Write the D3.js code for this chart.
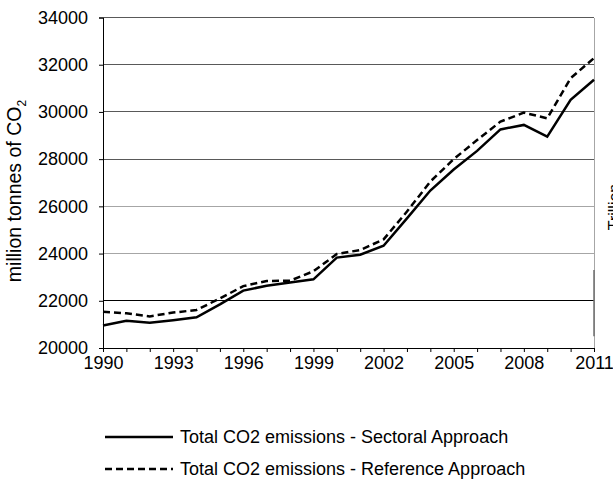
<!DOCTYPE html>
<html>
<head>
<meta charset="utf-8">
<script src="https://cdn.jsdelivr.net/npm/d3@7"></script>
<style>
  html, body { margin: 0; padding: 0; background: #fff; }
  svg { display: block; font-family: "Liberation Sans", Arial, sans-serif; }
</style>
</head>
<body>
<svg id="chart" width="613" height="486"></svg>
<script>
const years = [1990,1991,1992,1993,1994,1995,1996,1997,1998,1999,2000,2001,2002,2003,2004,2005,2006,2007,2008,2009,2010,2011];
const sectoral = [20950,21150,21070,21180,21300,21850,22430,22640,22770,22910,23830,23950,24330,25490,26670,27560,28350,29260,29450,28950,30510,31360];
const reference = [21540,21470,21340,21500,21610,22100,22620,22840,22850,23250,23980,24150,24600,25780,27050,28000,28810,29590,29970,29730,31430,32280];
const yTicks = [20000,22000,24000,26000,28000,30000,32000,34000];
const xLabelYears = [1990,1993,1996,1999,2002,2005,2008,2011];
const seriesNames = ["Total CO2 emissions - Sectoral Approach", "Total CO2 emissions - Reference Approach"];
const gridColors = {22000:"#000", 24000:"#a6a6a6", 26000:"#a6a6a6", 28000:"#595959", 30000:"#595959", 32000:"#595959", 34000:"#595959"};

const svg = d3.select("#chart");
const pL = 103, pR = 594, pT = 17.5, pB = 348;

const x = d3.scaleLinear().domain([1990, 2011]).range([pL, pR]);
const y = d3.scaleLinear().domain([20000, 34000]).range([pB, pT]);

// gridlines
svg.append("g").selectAll("line").data(yTicks.filter(d => d > 20000)).join("line")
  .attr("x1", pL).attr("x2", pR)
  .attr("y1", d => y(d)).attr("y2", d => y(d))
  .attr("stroke", d => gridColors[d]).attr("stroke-width", 1)
  .attr("shape-rendering", "crispEdges");

// right border
svg.append("line").attr("x1", pR).attr("x2", pR).attr("y1", pT).attr("y2", pB)
  .attr("stroke", "#a6a6a6").attr("shape-rendering", "crispEdges");
svg.append("line").attr("x1", pR).attr("x2", pR).attr("y1", y(23300)).attr("y2", y(20500))
  .attr("stroke", "#6e6e6e").attr("stroke-width", 1.5);

// y axis
const yAxis = svg.append("g").attr("transform", `translate(${pL},0)`)
  .call(d3.axisLeft(y).tickValues(yTicks).tickSize(4).tickPadding(11).tickFormat(d3.format("d")));
yAxis.select(".domain").attr("stroke", "#000");
yAxis.selectAll("text").attr("font-size", 18).attr("fill", "#000").attr("font-family", "Liberation Sans, Arial, sans-serif");

// x axis
const xAxis = svg.append("g").attr("transform", `translate(0,${pB})`)
  .call(d3.axisBottom(x).tickValues(years).tickSize(4).tickPadding(4)
    .tickFormat(d => xLabelYears.includes(d) ? String(d) : ""));
xAxis.select(".domain").attr("stroke", "#000");
xAxis.selectAll("text").attr("font-size", 18).attr("fill", "#000").attr("font-family", "Liberation Sans, Arial, sans-serif");

// lines
const line = d3.line().x((d, i) => x(years[i])).y(d => y(d));
svg.append("path").datum(reference).attr("d", line)
  .attr("fill", "none").attr("stroke", "#000").attr("stroke-width", 2.5)
  .attr("stroke-dasharray", "7,4");
svg.append("path").datum(sectoral).attr("d", line)
  .attr("fill", "none").attr("stroke", "#000").attr("stroke-width", 2.5);

// y title
svg.append("text")
  .attr("transform", `translate(21,191) rotate(-90)`)
  .attr("text-anchor", "middle").attr("font-size", 19.5)
  .html('million tonnes of CO<tspan dy="5" font-size="12">2</tspan>');

// clipped secondary title at right edge (cut off in the reference too)
svg.append("text")
  .attr("transform", `translate(620,207) rotate(-90)`)
  .attr("text-anchor", "middle").attr("font-size", 16)
  .text("Trillion");

// legend
const legend = svg.append("g");
const legendRows = [{y: 437, dash: null}, {y: 469, dash: "7,4"}];
legendRows.forEach((r, i) => {
  legend.append("line").attr("x1", 105).attr("x2", 173).attr("y1", r.y).attr("y2", r.y)
    .attr("stroke", "#000").attr("stroke-width", 2.5)
    .attr("stroke-dasharray", r.dash);
  legend.append("text").attr("x", 180).attr("y", r.y).attr("dy", "0.35em")
    .attr("font-size", 18).text(seriesNames[i]);
});
</script>
</body>
</html>
